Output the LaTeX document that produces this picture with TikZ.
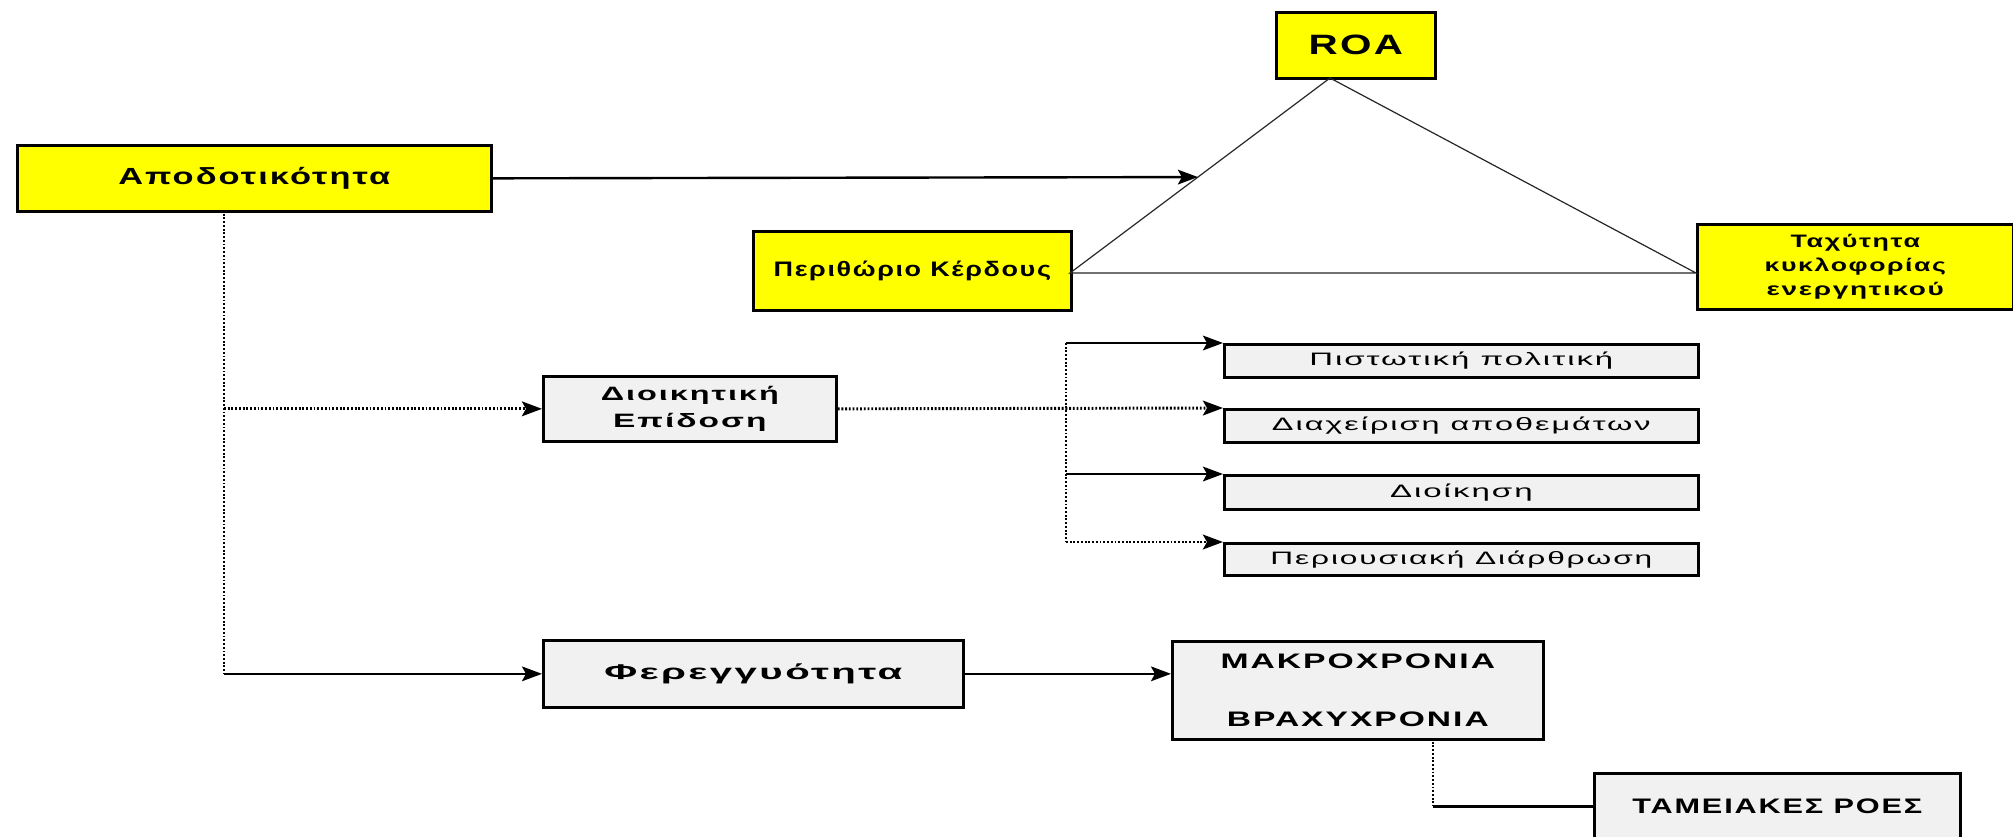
\documentclass[tikz,border=0pt]{standalone}
\usepackage{fontspec}
\setmainfont{Liberation Sans}[LetterSpace=6]
\usepackage{graphicx}
\usetikzlibrary{arrows.meta,calc}
\definecolor{boxyellow}{RGB}{255,255,0}
\definecolor{boxgray}{RGB}{241,241,241}
\newcommand\pxu{*0.75pt}
\newcommand\tw[2]{\resizebox{#1pt}{\height}{#2}}
\begin{document}
\begin{tikzpicture}[x=0.75pt,y=-0.75pt,
  box/.style={draw=black,line width=2pt,inner sep=0pt,anchor=north west,align=center},
  ybox/.style={box,fill=boxyellow},
  gbox/.style={box,fill=boxgray},
  conn/.style={line width=1.8pt},
  dotc/.style={line width=2.2pt,dash pattern=on 1.4pt off 1.4pt},
  tri/.style={line width=0.9pt,draw=black!85},
  arr/.style={-{Stealth[length=15pt,width=11pt,inset=3pt]}}]
\useasboundingbox (0,0) rectangle (2013,836);
\fill[white] (0,0) rectangle (2013,836);

% yellow boxes
\node[ybox,minimum width=474\pxu,minimum height=66\pxu,font=\bfseries\fontsize{17.5}{20}\selectfont] (apo) at (16,144) {\tw{204}{Αποδοτικότητα}};
\node[ybox,minimum width=159\pxu,minimum height=66\pxu,font=\bfseries\fontsize{21}{24}\selectfont] (roa) at (1275,11) {\tw{71}{ROA}};
\node[ybox,minimum width=318\pxu,minimum height=79\pxu,font=\bfseries\fontsize{15.75}{18}\selectfont] (per) at (752,230) {\tw{208}{Περιθώριο Κέρδους}};
\node[ybox,minimum width=316\pxu,minimum height=85\pxu,font=\bfseries\fontsize{13.5}{18}\selectfont] (tax) at (1696,223) {\tw{97}{Ταχύτητα}\\\tw{136}{κυκλοφορίας}\\\tw{133}{ενεργητικού}};

% gray boxes
\node[gbox,minimum width=293\pxu,minimum height=65\pxu,font=\bfseries\fontsize{14.5}{20}\selectfont] (dioep) at (542,375) {\tw{133.5}{Διοικητική}\\\tw{115}{Επίδοση}};
\node[gbox,minimum width=420\pxu,minimum height=67\pxu,font=\bfseries\fontsize{16}{18}\selectfont] (fer) at (542,639) {\tw{223.5}{Φερεγγυότητα}};
\node[gbox,minimum width=371\pxu,minimum height=98\pxu,font=\bfseries\fontsize{15.75}{43.5}\selectfont] (makro) at (1171,640) {\tw{206}{ΜΑΚΡΟΧΡΟΝΙΑ}\\\tw{196.5}{ΒΡΑΧΥΧΡΟΝΙΑ}};
\node[gbox,minimum width=366\pxu,minimum height=66\pxu,font=\bfseries\fontsize{15.75}{18}\selectfont] (tam) at (1593,772) {\tw{217.5}{ΤΑΜΕΙΑΚΕΣ ΡΟΕΣ}};

\node[gbox,minimum width=474\pxu,minimum height=33\pxu,font=\fontsize{13.5}{16}\selectfont] (b1) at (1223,343) {\tw{228}{Πιστωτική πολιτική}};
\node[gbox,minimum width=474\pxu,minimum height=33\pxu,font=\fontsize{13.5}{16}\selectfont] (b2) at (1223,408) {\tw{284}{Διαχείριση αποθεμάτων}};
\node[gbox,minimum width=474\pxu,minimum height=34\pxu,font=\fontsize{13.5}{16}\selectfont] (b3) at (1223,474) {\tw{107}{Διοίκηση}};
\node[gbox,minimum width=474\pxu,minimum height=32\pxu,font=\fontsize{13.5}{16}\selectfont] (b4) at (1223,542) {\tw{286.5}{Περιουσιακή Διάρθρωση}};

% triangle
\coordinate (apex) at (1330,78);
\coordinate (L) at (1070,273);
\coordinate (R) at (1696,273);
\draw[tri] (L) -- (apex) -- (R) -- cycle;
\coordinate (hit) at ($(apex)!0.508!(L)$);
\draw[conn,arr] (apo.east) -- (hit);

% left trunk
\coordinate (tt) at (224,210);
\draw[dotc] (tt) -- (tt |- fer.west);
\draw[dotc,arr] (tt |- dioep.west) -- (dioep.west);
\draw[conn,arr] (tt |- fer.west) -- (fer.west);

% right group
\coordinate (vt) at (1066,343);
\draw[dotc] (vt) -- (vt |- b4.north west);
\draw[conn,arr] (vt) -- (b1.north west);
\draw[dotc,arr] (dioep.east) -- (b2.north west);
\draw[conn,arr] (vt |- b3.north west) -- (b3.north west);
\draw[dotc,arr] (vt |- b4.north west) -- (b4.north west);

% bottom
\draw[conn,arr] (fer.east) -- (fer.east -| makro.west);
\coordinate (mb) at (1433,738);
\draw[dotc] (mb) -- (mb |- tam.west);
\draw[conn] (mb |- tam.west) -- (tam.west);
\end{tikzpicture}
\end{document}
